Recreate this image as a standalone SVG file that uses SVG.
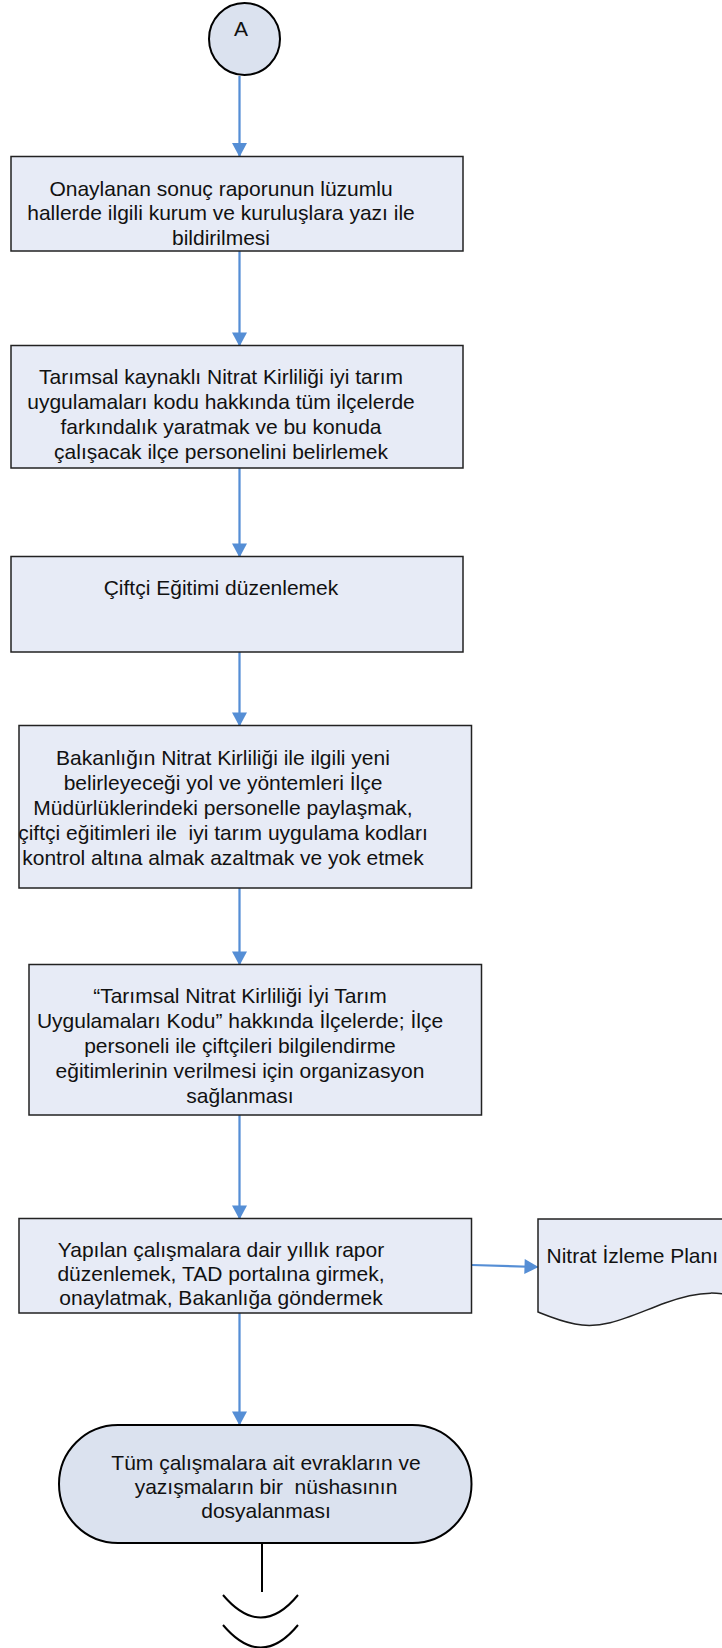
<svg xmlns="http://www.w3.org/2000/svg" width="722" height="1648" viewBox="0 0 722 1648">
<style>
.bg{fill:#ffffff}
.box{fill:#e7ebf6;stroke:#222222;stroke-width:1.5}
.term{fill:#dbe2ef;stroke:#000000;stroke-width:2}
.t{font-family:"Liberation Sans",Arial,sans-serif;font-size:21px;fill:#111111;text-anchor:middle;white-space:pre}
.tl{font-family:"Liberation Sans",Arial,sans-serif;font-size:21px;fill:#111111;text-anchor:start}
.conn{fill:none;stroke:#558ed5;stroke-width:2.25}
.blk{fill:none;stroke:#000000;stroke-width:2}
</style>
<defs>
<marker id="ah" markerWidth="15" markerHeight="15" viewBox="0 0 14 15" refX="13" refY="7.5" orient="auto" markerUnits="userSpaceOnUse">
<path d="M0,0 L14,7.5 L0,15 Z" fill="#558ed5"/>
</marker>
</defs>
<rect class="bg" x="0" y="0" width="722" height="1648"/>

<g id="connectors">
<line class="conn" x1="239.5" y1="76" x2="239.5" y2="156" marker-end="url(#ah)"/>
<line class="conn" x1="239.5" y1="251" x2="239.5" y2="345.5" marker-end="url(#ah)"/>
<line class="conn" x1="239.5" y1="468" x2="239.5" y2="556.5" marker-end="url(#ah)"/>
<line class="conn" x1="239.5" y1="652" x2="239.5" y2="725.5" marker-end="url(#ah)"/>
<line class="conn" x1="239.5" y1="888" x2="239.5" y2="964.5" marker-end="url(#ah)"/>
<line class="conn" x1="239.5" y1="1115" x2="239.5" y2="1218.5" marker-end="url(#ah)"/>
<line class="conn" x1="472" y1="1265" x2="537.5" y2="1267" marker-end="url(#ah)"/>
<line class="conn" x1="239.5" y1="1313" x2="239.5" y2="1424.5" marker-end="url(#ah)"/>
<line class="blk" x1="262" y1="1543" x2="262" y2="1592"/>
</g>

<g id="start-A">
<ellipse cx="244.5" cy="39" rx="35.5" ry="36" class="term"/>
<text x="241" y="36" class="t" style="font-size:21px">A</text>
</g>

<g id="step1">
<rect class="box" x="11" y="156.5" width="452" height="94.5"/>
<text class="t" x="221" y="195.5">Onaylanan sonuç raporunun lüzumlu</text>
<text class="t" x="221" y="220">hallerde ilgili kurum ve kuruluşlara yazı ile</text>
<text class="t" x="221" y="244.5">bildirilmesi</text>
</g>

<g id="step2">
<rect class="box" x="11" y="345.5" width="452" height="122.5"/>
<text class="t" x="221" y="383.5">Tarımsal kaynaklı Nitrat Kirliliği iyi tarım</text>
<text class="t" x="221" y="408.5">uygulamaları kodu hakkında tüm ilçelerde</text>
<text class="t" x="221" y="433.5">farkındalık yaratmak ve bu konuda</text>
<text class="t" x="221" y="458.5">çalışacak ilçe personelini belirlemek</text>
</g>

<g id="step3">
<rect class="box" x="11" y="556.5" width="452" height="95.5"/>
<text class="t" x="221" y="595">Çiftçi Eğitimi düzenlemek</text>
</g>

<g id="step4">
<rect class="box" x="19" y="725.5" width="452.5" height="162.5"/>
<text class="t" x="223" y="765">Bakanlığın Nitrat Kirliliği ile ilgili yeni</text>
<text class="t" x="223" y="790">belirleyeceği yol ve yöntemleri İlçe</text>
<text class="t" x="223" y="815">Müdürlüklerindeki personelle paylaşmak,</text>
<text class="t" x="223" y="840">çiftçi eğitimleri ile  iyi tarım uygulama kodları</text>
<text class="t" x="223" y="865">kontrol altına almak azaltmak ve yok etmek</text>
</g>

<g id="step5">
<rect class="box" x="29" y="964.5" width="452.5" height="150.5"/>
<text class="t" x="240" y="1003">“Tarımsal Nitrat Kirliliği İyi Tarım</text>
<text class="t" x="240" y="1028">Uygulamaları Kodu” hakkında İlçelerde; İlçe</text>
<text class="t" x="240" y="1053">personeli ile çiftçileri bilgilendirme</text>
<text class="t" x="240" y="1078">eğitimlerinin verilmesi için organizasyon</text>
<text class="t" x="240" y="1103">sağlanması</text>
</g>

<g id="step6">
<rect class="box" x="19" y="1218.5" width="452.5" height="94.5"/>
<text class="t" x="221" y="1257">Yapılan çalışmalara dair yıllık rapor</text>
<text class="t" x="221" y="1281">düzenlemek, TAD portalına girmek,</text>
<text class="t" x="221" y="1305">onaylatmak, Bakanlığa göndermek</text>
</g>

<g id="document">
<path class="box" d="M538,1219 H760 V1302 C720,1290 700,1290 665,1303 C630,1316 605,1330 575,1324 C560,1321 548,1316 538,1312 Z"/>
<text class="tl" x="546.5" y="1263">Nitrat İzleme Planı</text>
</g>

<g id="end">
<rect class="term" x="59" y="1425" width="412.5" height="118" rx="59" ry="59"/>
<text class="t" x="266" y="1470">Tüm çalışmalara ait evrakların ve</text>
<text class="t" x="266" y="1494">yazışmaların bir  nüshasının</text>
<text class="t" x="266" y="1518">dosyalanması</text>
</g>

<g id="offpage">
<path class="blk" d="M223,1595 Q261,1640 298,1595"/>
<path class="blk" d="M223,1625 Q261,1670 298,1625"/>
</g>
</svg>
